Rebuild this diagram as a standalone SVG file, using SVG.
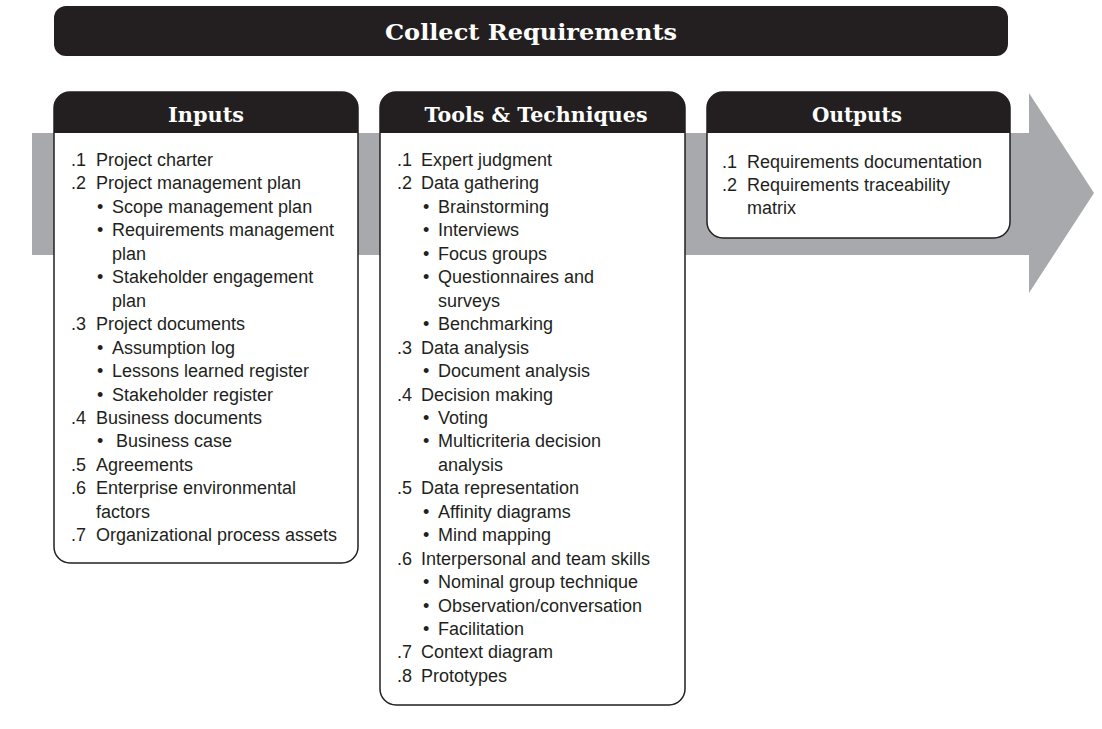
<svg xmlns="http://www.w3.org/2000/svg" width="1102" height="729" viewBox="0 0 1102 729">
<style>
.hd{font-family:"DejaVu Serif","Liberation Serif",serif;font-weight:bold;fill:#ffffff;text-anchor:middle}
.t{font-family:"Liberation Sans",Arial,sans-serif;font-size:18px;fill:#231f20}
.box{fill:#ffffff;stroke:#231f20;stroke-width:1.5}
.hdr{fill:#231f20}
</style>
<rect width="1102" height="729" fill="#ffffff"/>
<g id="connectors">
<polygon points="32,133 1029,133 1029,93 1094,193 1029,293 1029,255 32,255" fill="#a7a9ac"/>
</g>
<g id="title">
<rect x="54" y="6" width="954" height="50" rx="12" fill="#231f20"/>
<text class="hd" x="531" y="40" font-size="23" textLength="292" lengthAdjust="spacingAndGlyphs">Collect Requirements</text>
</g>
<g id="inputs">
<path class="box" d="M70,92 H342 A16,16 0 0 1 358,108 V547 A16,16 0 0 1 342,563 H70 A16,16 0 0 1 54,547 V108 A16,16 0 0 1 70,92 Z"/>
<path class="hdr" d="M70,92 H342 A16,16 0 0 1 358,108 V133 H54 V108 A16,16 0 0 1 70,92 Z"/>
<text class="hd" x="206" y="122" font-size="20" textLength="76" lengthAdjust="spacingAndGlyphs">Inputs</text>
<text class="t" x="71" y="166">.1</text><text class="t" x="96" y="166">Project charter</text>
<text class="t" x="71" y="189.45">.2</text><text class="t" x="96" y="189.45">Project management plan</text>
<text class="t" x="97" y="212.9">•</text><text class="t" x="112" y="212.9">Scope management plan</text>
<text class="t" x="97" y="236.35">•</text><text class="t" x="112" y="236.35">Requirements management</text>
<text class="t" x="112" y="259.8">plan</text>
<text class="t" x="97" y="283.25">•</text><text class="t" x="112" y="283.25">Stakeholder engagement</text>
<text class="t" x="112" y="306.7">plan</text>
<text class="t" x="71" y="330.15">.3</text><text class="t" x="96" y="330.15">Project documents</text>
<text class="t" x="97" y="353.6">•</text><text class="t" x="112" y="353.6">Assumption log</text>
<text class="t" x="97" y="377.05">•</text><text class="t" x="112" y="377.05">Lessons learned register</text>
<text class="t" x="97" y="400.5">•</text><text class="t" x="112" y="400.5">Stakeholder register</text>
<text class="t" x="71" y="423.95">.4</text><text class="t" x="96" y="423.95">Business documents</text>
<text class="t" x="97" y="447.4">•</text><text class="t" x="116" y="447.4">Business case</text>
<text class="t" x="71" y="470.85">.5</text><text class="t" x="96" y="470.85">Agreements</text>
<text class="t" x="71" y="494.3">.6</text><text class="t" x="96" y="494.3">Enterprise environmental</text>
<text class="t" x="96" y="517.75">factors</text>
<text class="t" x="71" y="541.2">.7</text><text class="t" x="96" y="541.2">Organizational process assets</text>
</g>
<g id="tools">
<path class="box" d="M396,92 H669 A16,16 0 0 1 685,108 V689 A16,16 0 0 1 669,705 H396 A16,16 0 0 1 380,689 V108 A16,16 0 0 1 396,92 Z"/>
<path class="hdr" d="M396,92 H669 A16,16 0 0 1 685,108 V133 H380 V108 A16,16 0 0 1 396,92 Z"/>
<text class="hd" x="536" y="122" font-size="20" textLength="223" lengthAdjust="spacingAndGlyphs">Tools &amp; Techniques</text>
<text class="t" x="397" y="166">.1</text><text class="t" x="421" y="166">Expert judgment</text>
<text class="t" x="397" y="189.45">.2</text><text class="t" x="421" y="189.45">Data gathering</text>
<text class="t" x="423" y="212.9">•</text><text class="t" x="438" y="212.9">Brainstorming</text>
<text class="t" x="423" y="236.35">•</text><text class="t" x="438" y="236.35">Interviews</text>
<text class="t" x="423" y="259.8">•</text><text class="t" x="438" y="259.8">Focus groups</text>
<text class="t" x="423" y="283.25">•</text><text class="t" x="438" y="283.25">Questionnaires and</text>
<text class="t" x="438" y="306.7">surveys</text>
<text class="t" x="423" y="330.15">•</text><text class="t" x="438" y="330.15">Benchmarking</text>
<text class="t" x="397" y="353.6">.3</text><text class="t" x="421" y="353.6">Data analysis</text>
<text class="t" x="423" y="377.05">•</text><text class="t" x="438" y="377.05">Document analysis</text>
<text class="t" x="397" y="400.5">.4</text><text class="t" x="421" y="400.5">Decision making</text>
<text class="t" x="423" y="423.95">•</text><text class="t" x="438" y="423.95">Voting</text>
<text class="t" x="423" y="447.4">•</text><text class="t" x="438" y="447.4">Multicriteria decision</text>
<text class="t" x="438" y="470.85">analysis</text>
<text class="t" x="397" y="494.3">.5</text><text class="t" x="421" y="494.3">Data representation</text>
<text class="t" x="423" y="517.75">•</text><text class="t" x="438" y="517.75">Affinity diagrams</text>
<text class="t" x="423" y="541.2">•</text><text class="t" x="438" y="541.2">Mind mapping</text>
<text class="t" x="397" y="564.65">.6</text><text class="t" x="421" y="564.65">Interpersonal and team skills</text>
<text class="t" x="423" y="588.1">•</text><text class="t" x="438" y="588.1">Nominal group technique</text>
<text class="t" x="423" y="611.55">•</text><text class="t" x="438" y="611.55">Observation/conversation</text>
<text class="t" x="423" y="635">•</text><text class="t" x="438" y="635">Facilitation</text>
<text class="t" x="397" y="658.45">.7</text><text class="t" x="421" y="658.45">Context diagram</text>
<text class="t" x="397" y="681.9">.8</text><text class="t" x="421" y="681.9">Prototypes</text>
</g>
<g id="outputs">
<path class="box" d="M723,92 H994 A16,16 0 0 1 1010,108 V222 A16,16 0 0 1 994,238 H723 A16,16 0 0 1 707,222 V108 A16,16 0 0 1 723,92 Z"/>
<path class="hdr" d="M723,92 H994 A16,16 0 0 1 1010,108 V133 H707 V108 A16,16 0 0 1 723,92 Z"/>
<text class="hd" x="857" y="122" font-size="20" textLength="90" lengthAdjust="spacingAndGlyphs">Outputs</text>
<text class="t" x="722" y="167.5">.1</text><text class="t" x="747" y="167.5">Requirements documentation</text>
<text class="t" x="722" y="190.5">.2</text><text class="t" x="747" y="190.5">Requirements traceability</text>
<text class="t" x="747" y="213.5">matrix</text>
</g>
</svg>
